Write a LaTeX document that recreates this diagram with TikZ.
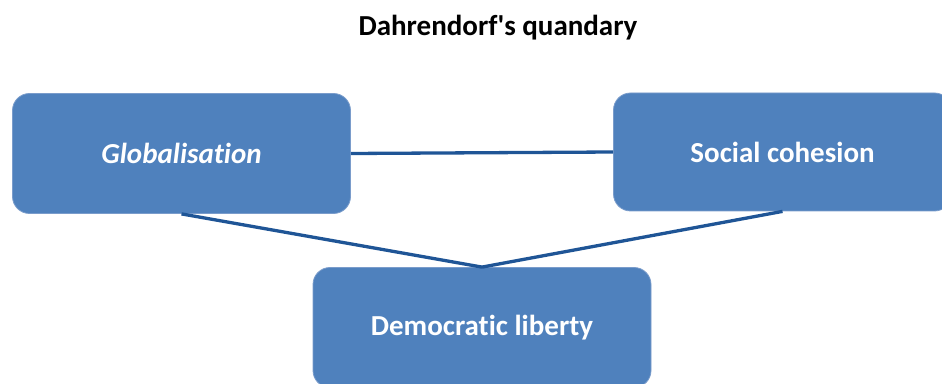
\documentclass[tikz,border=0pt]{standalone}
\usepackage{fontspec}
\setmainfont{Carlito}[Ligatures=CommonOff]
\definecolor{boxfill}{HTML}{4F81BD}
\definecolor{boxline}{HTML}{7A9CCB}
\definecolor{linkcol}{HTML}{1F5596}
\begin{document}
\begin{tikzpicture}[x=1pt,y=1pt,
  blockbox/.style={draw=boxline, line width=0.8pt, fill=boxfill, rounded corners=17pt,
    minimum width=338pt, minimum height=120pt, inner sep=0pt, text=white,
    font=\fontsize{29}{34}\selectfont\bfseries},
  link/.style={draw=linkcol, line width=3.3pt}]
\useasboundingbox (0,0) rectangle (942,383);
\clip (0,0) rectangle (942,383);
\node[font=\fontsize{29}{34}\selectfont\bfseries] (title) at (498,355) {Dahrendorf\textquotesingle s quandary};
\node[blockbox] (g) at (181.5,229.5) {\itshape Globalisation};
\node[blockbox, minimum height=118pt] (s) at (782.5,231) {Social cohesion};
\node[blockbox] (d) at (482,55.5) {Democratic liberty};
\draw[link] (g.east) -- (s.west);
\draw[link] (g.south) -- (d.north);
\draw[link] (s.south) -- (d.north);
\end{tikzpicture}
\end{document}
